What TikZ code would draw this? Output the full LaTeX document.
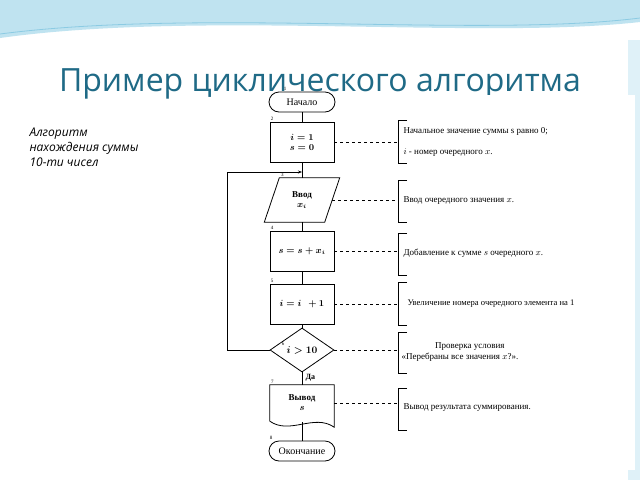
\documentclass[tikz,border=0pt]{standalone}
\usepackage{fontspec}
\setmainfont{Liberation Serif}
\newfontfamily\slidefont{Open Sans}
\usetikzlibrary{shapes.geometric, arrows.meta, calc}
\definecolor{TITLE}{HTML}{1F6A86}
\definecolor{WAVE}{HTML}{BFE3F0}
\definecolor{WAVEDARK}{HTML}{8CCBE3}
\tikzset{
  blk/.style={draw, thick, minimum width=64pt, minimum height=40pt, align=center, font=\fontsize{9}{10}\selectfont\bfseries\boldmath},
  term/.style={draw, thick, rounded corners=10pt, minimum width=66pt, minimum height=20pt, font=\fontsize{10}{11}\selectfont},
  num/.style={font=\fontsize{5}{5}\selectfont, inner sep=1pt},
  note/.style={anchor=west, font=\fontsize{9}{11}\selectfont, align=left},
  link/.style={dashed, thin},
}
\begin{document}
\begin{tikzpicture}[x=1pt, y=-1pt]
    \useasboundingbox (0,0) rectangle (640,480);
    % Background
    \fill[white] (0,0) rectangle (640,480);
    \fill[WAVE] (0,0) -- (640,0) -- (640,22) .. controls (480,40) and (200,10) .. (0,38) -- cycle;
    \draw[WAVEDARK, thick] (0,34) .. controls (200,8) and (480,38) .. (640,18);
    \fill[WAVE!50] (628,40) rectangle (640,480);
    % Title
    \node[TITLE, font=\slidefont\fontsize{32}{34}\selectfont] (title) at (320,84) {Пример циклического алгоритма};
    \node[font=\slidefont\itshape\fontsize{12}{15}\selectfont, anchor=north west, align=left] (intro) at (26,124) {Алгоритм\\нахождения суммы\\10-ти чисел};
    \fill[white] (215,95) rectangle (635,470);
    % Shapes
    \node[term] (start) at (302,102) {Начало};
    \node[blk] (init) at (302,142) {$i = 1$\\$s = 0$};
    \node[minimum width=60pt, minimum height=44pt, align=center, font=\fontsize{9}{10}\selectfont\bfseries\boldmath] (input) at (302,200) {Ввод\\$x_i$};
    \draw[thick] ($(input.south west)+(-7.5,0)$) -- ($(input.south east)+(-7.5,0)$) -- ($(input.north east)+(7.5,0)$) -- ($(input.north west)+(7.5,0)$) -- cycle;
    \node[blk] (sum) at (302,251) {$s = s + x_i$};
    \node[blk] (inc) at (302,304) {$i = i\ \ + 1$};
    \node[diamond, draw, thick, aspect=1.45, minimum width=64pt, minimum height=44pt, inner sep=0pt, font=\fontsize{10}{11}\selectfont\bfseries\boldmath] (cond) at (302,350) {$i > 10$};
    \node[minimum width=64pt, minimum height=36pt, align=center, font=\fontsize{9}{10}\selectfont\bfseries\boldmath] (output) at (302,403) {Вывод\\$s$};
    \draw[thick] (output.south west) -- (output.north west) -- (output.north east) -- ($(output.south east)+(0,6)$) .. controls ($(output.south east)+(-20,-8)$) and ($(output.south west)+(20,14)$) .. (output.south west);
    \node[term] (stop) at (302,451) {Окончание};
    % Numbers
    \foreach \n/\nd in {2/init, 4/sum, 5/inc, 7/output, 8/stop}
      \node[num, anchor=south west] at (\nd.north west) {\n};
    \node[num, anchor=south west] at ($(start.north west)+(14,0)$) {1};
    \node[num, anchor=south west] at ($(input.north west)+(8,0)$) {3};
    \node[num] at (283,344) {6};
    % Connectors
    \draw[thick] (start) -- (init);
    \draw[thick] (init) -- (input);
    \draw[thick] (input) -- (sum);
    \draw[thick] (sum) -- (inc);
    \draw[thick] (inc) -- (cond);
    \draw[thick] (cond) -- node[right, pos=0.45, font=\fontsize{8}{9}\selectfont\bfseries] {Да} (output);
    \draw[thick] ($(output.south)+(0,1)$) -- (stop);
    \coordinate (loop) at (302,172);
    \draw[thick, -{Stealth[length=4pt]}] (cond.west) -| (227,172) -- (loop);
    % Notes
    \foreach \nd/\top/\bot in {init/120/163, input/180/222, sum/233/275, inc/282/325, cond/332/373, output/388/430} {
      \coordinate (br) at (398,\top);
      \draw (407,\top) -- (br) -- (398,\bot) -- (407,\bot);
      \draw[link] (\nd.east) -- (\nd.east -| br);
    }
    \node[note] (n2) at (400,131) {Начальное значение суммы s равно 0;};
    \node[note] (n2b) at (400,152) {$i$ - номер очередного $x$.};
    \node[note] (n3) at (400,201) {Ввод очередного значения $x$.};
    \node[note] (n4) at (400,253) {Добавление к сумме $s$ очередного $x$.};
    \node[note, font=\fontsize{8.6}{10}\selectfont] (n5) at (404,304) {Увеличение номера очередного элемента на 1};
    \node[note, align=center] (n6) at (398,352) {\hspace*{20pt}Проверка условия\\«Перебраны все значения $x$?».};
    \node[note] (n7) at (400,408) {Вывод результата суммирования.};
\end{tikzpicture}
\end{document}
